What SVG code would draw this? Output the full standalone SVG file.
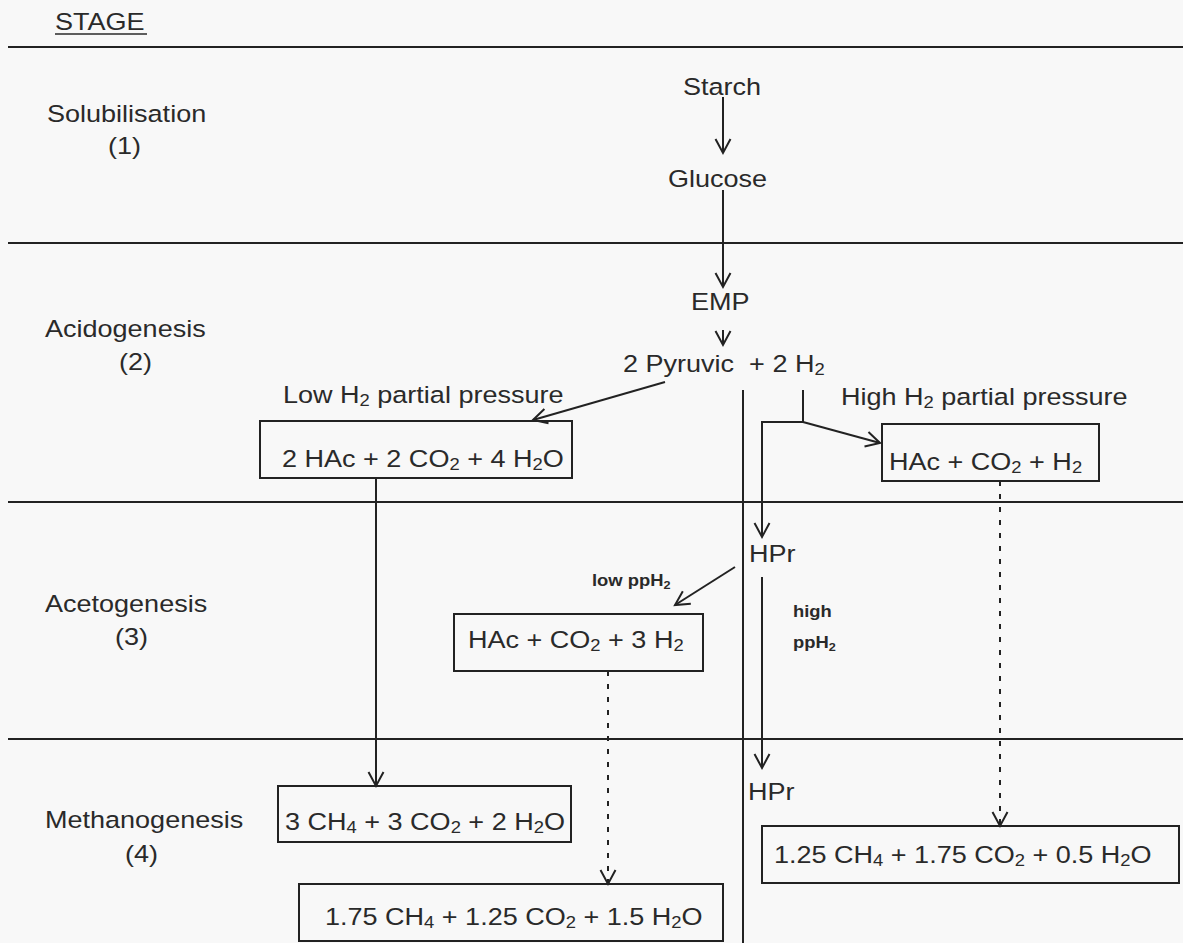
<svg xmlns="http://www.w3.org/2000/svg" width="1183" height="943" viewBox="0 0 1183 943">
<style>
.t{font-family:"Liberation Sans",Arial,sans-serif;font-size:23.5px;fill:#2a2a2a}
.b{font-family:"Liberation Sans",Arial,sans-serif;font-size:16px;font-weight:bold;fill:#2a2a2a}
.s{font-size:16px}
.bs{font-size:11px}
.rule{stroke:#222;stroke-width:2;fill:none}
.box{stroke:#222;stroke-width:2;fill:none}
.c{stroke:#222;stroke-width:2;fill:none}
.d{stroke:#222;stroke-width:2;fill:none;stroke-dasharray:5 8}
</style>
<defs>
<marker id="ah" viewBox="-16 -10 20 20" refX="0" refY="0" markerWidth="20" markerHeight="20" markerUnits="userSpaceOnUse" orient="auto">
<path d="M-14,-7.5 L0,0 L-14,7.5" fill="none" stroke="#222" stroke-width="2" stroke-dasharray="none"/>
</marker>
</defs>
<rect width="1183" height="943" fill="#f8f8f8"/>

<g id="rules">
<line class="rule" x1="8" y1="47" x2="1183" y2="47"/>
<line class="rule" x1="8" y1="243" x2="1183" y2="243"/>
<line class="rule" x1="8" y1="502" x2="1183" y2="502"/>
<line class="rule" x1="8" y1="739" x2="1183" y2="739"/>
<line class="rule" x1="743" y1="390" x2="743" y2="943"/>
</g>

<g id="stage-labels">
<text class="t" transform="translate(55 30) scale(1.15 1)">STAGE</text>
<line x1="55" y1="34" x2="147" y2="34" stroke="#2a2a2a" stroke-width="1.5"/>
<text class="t" transform="translate(47 122) scale(1.15 1)">Solubilisation</text>
<text class="t" transform="translate(108 154) scale(1.15 1)">(1)</text>
<text class="t" transform="translate(45 337) scale(1.15 1)">Acidogenesis</text>
<text class="t" transform="translate(119 370) scale(1.15 1)">(2)</text>
<text class="t" transform="translate(45 612) scale(1.15 1)">Acetogenesis</text>
<text class="t" transform="translate(115 645) scale(1.15 1)">(3)</text>
<text class="t" transform="translate(45 828) scale(1.15 1)">Methanogenesis</text>
<text class="t" transform="translate(125 862) scale(1.15 1)">(4)</text>
</g>

<g id="starch"><text class="t" transform="translate(683 95) scale(1.15 1)">Starch</text></g>
<g id="glucose"><text class="t" transform="translate(668 187) scale(1.15 1)">Glucose</text></g>
<g id="emp"><text class="t" transform="translate(691 310) scale(1.15 1)">EMP</text></g>
<g id="pyruvic"><text class="t" xml:space="preserve" transform="translate(623 372) scale(1.15 1)">2 Pyruvic  + 2 H<tspan class="s" dy="3">2</tspan></text></g>

<g id="low-label"><text class="t" transform="translate(283 403) scale(1.15 1)">Low H<tspan class="s" dy="3">2</tspan><tspan dy="-3"> partial pressure</tspan></text></g>
<g id="high-label"><text class="t" transform="translate(841 405) scale(1.15 1)">High H<tspan class="s" dy="3">2</tspan><tspan dy="-3"> partial pressure</tspan></text></g>

<g id="box-acid-low">
<rect class="box" x="260" y="421" width="312" height="57"/>
<text class="t" transform="translate(282 467) scale(1.15 1)">2 HAc + 2 CO<tspan class="s" dy="3">2</tspan><tspan dy="-3"> + 4 H</tspan><tspan class="s" dy="3">2</tspan><tspan dy="-3">O</tspan></text>
</g>
<g id="box-acid-high">
<rect class="box" x="882" y="424" width="217" height="57"/>
<text class="t" transform="translate(889 470) scale(1.15 1)">HAc + CO<tspan class="s" dy="3">2</tspan><tspan dy="-3"> + H</tspan><tspan class="s" dy="3">2</tspan></text>
</g>

<g id="hpr1"><text class="t" transform="translate(749 562) scale(1.15 1)">HPr</text></g>
<g id="low-pp"><text class="b" transform="translate(592 586) scale(1.15 1)">low ppH<tspan class="bs" dy="3">2</tspan></text></g>
<g id="high-pp">
<text class="b" transform="translate(793 617) scale(1.15 1)">high</text>
<text class="b" transform="translate(793 648) scale(1.15 1)">ppH<tspan class="bs" dy="3">2</tspan></text>
</g>

<g id="box-aceto">
<rect class="box" x="454" y="614" width="249" height="57"/>
<text class="t" transform="translate(468 648) scale(1.15 1)">HAc + CO<tspan class="s" dy="3">2</tspan><tspan dy="-3"> + 3 H</tspan><tspan class="s" dy="3">2</tspan></text>
</g>

<g id="hpr2"><text class="t" transform="translate(748 800) scale(1.15 1)">HPr</text></g>

<g id="box-meth-a">
<rect class="box" x="278" y="786" width="293" height="56"/>
<text class="t" transform="translate(285 830) scale(1.15 1)">3 CH<tspan class="s" dy="3">4</tspan><tspan dy="-3"> + 3 CO</tspan><tspan class="s" dy="3">2</tspan><tspan dy="-3"> + 2 H</tspan><tspan class="s" dy="3">2</tspan><tspan dy="-3">O</tspan></text>
</g>
<g id="box-meth-b">
<rect class="box" x="299" y="884" width="424" height="57"/>
<text class="t" transform="translate(325 925) scale(1.15 1)">1.75 CH<tspan class="s" dy="3">4</tspan><tspan dy="-3"> + 1.25 CO</tspan><tspan class="s" dy="3">2</tspan><tspan dy="-3"> + 1.5 H</tspan><tspan class="s" dy="3">2</tspan><tspan dy="-3">O</tspan></text>
</g>
<g id="box-meth-c">
<rect class="box" x="762" y="826" width="417" height="57"/>
<text class="t" transform="translate(774 863) scale(1.15 1)">1.25 CH<tspan class="s" dy="3">4</tspan><tspan dy="-3"> + 1.75 CO</tspan><tspan class="s" dy="3">2</tspan><tspan dy="-3"> + 0.5 H</tspan><tspan class="s" dy="3">2</tspan><tspan dy="-3">O</tspan></text>
</g>

<g id="connectors">
<path class="c" d="M723,97 V153" marker-end="url(#ah)"/>
<path class="c" d="M723,190 V287" marker-end="url(#ah)"/>
<path class="c" d="M723,330 V345" marker-end="url(#ah)"/>
<path class="c" d="M665,382 L533,420" marker-end="url(#ah)"/>
<path class="c" d="M803,390 V422 H762 V537" marker-end="url(#ah)"/>
<path class="c" d="M803,422 L880,443" marker-end="url(#ah)"/>
<path class="c" d="M376,478 V786" marker-end="url(#ah)"/>
<path class="d" d="M1000,481 V826" marker-end="url(#ah)"/>
<path class="c" d="M735,567 L675,605" marker-end="url(#ah)"/>
<path class="d" d="M608,671 V884" marker-end="url(#ah)"/>
<path class="c" d="M762,577 V768" marker-end="url(#ah)"/>
</g>
</svg>
